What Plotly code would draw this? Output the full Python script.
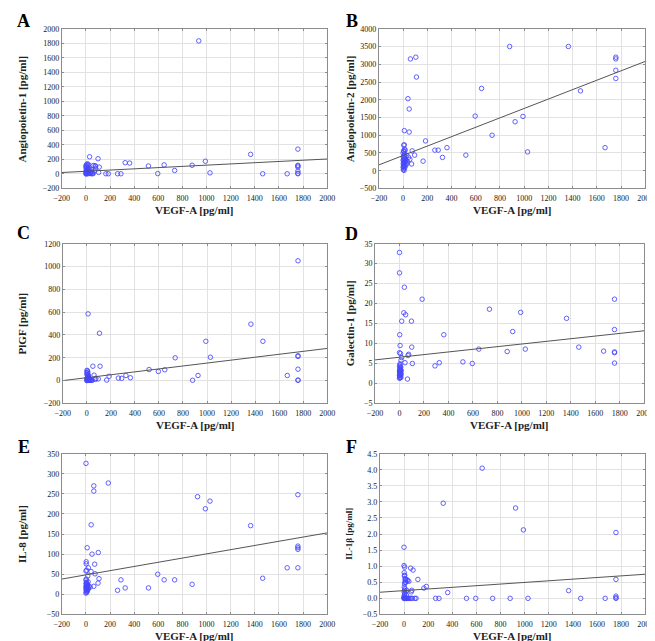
import plotly.graph_objects as go

W, H = 655, 641

# ---------------- data ----------------
vegf_range = [-200, 2000]

a_x = [935, 1757, 1365, 990, 880, 648, 518, 362, 325, 735,
       595, 1028, 1465, 1668, 1757, 1757, 1757, 1757, 1757, 1757,
       290, 262, 185, 165, 105, 110, 100, 30, 75, 80,
       60, 80, 45,
       0, 2, 5, 3, 8, 10, 12, 0, 5, 15,
       10, 20, 25, 2, 4, 6, 1, 18, 22, 30,
       35, 40, 50, 55, 28, 15, 0, 7, 12, 20,
       45, 60, 70, 3]
a_y = [1833, 342, 270, 175, 120, 125, 110, 150, 155, 48,
       5, 15, 3, 3, 3, 40, 95, 110, 120, 10,
       3, 3, 3, 3, 22, 95, 210, 237, 115, 105,
       116, 80, 60,
       0, 10, 20, 30, 40, 55, 70, 85, 100, 120,
       140, 130, 90, 5, 15, 25, 45, 50, 35, 20,
       10, 5, 3, 15, 60, 75, 110, 65, 2, 8,
       30, 5, 40, 125]

b_x = [880, 1365, 1757, 1757, 1757, 1757, 1465, 648, 595, 990,
       925, 735, 1028, 1668, 518, 362, 325, 290, 262, 185,
       165, 60, 105, 110, 40, 50, 10, 50, 75, 95,
       70, 55, 30, 45,
       5, 10, 3, 8, 0, 12, 5, 15, 2, 7,
       10, 0, 4, 13, 6, 9, 1, 11, 3, 8,
       5, 0, 14, 6, 2, 8, 18, 20, 25, 30,
       22, 35, 12, 17]
b_y = [3500, 3500, 3200, 3150, 2830, 2600, 2250, 2320, 1540, 1530,
       1380, 1000, 530, 650, 440, 650, 375, 580, 580, 840,
       270, 3150, 3200, 2640, 2030, 1740, 1130, 1090, 560, 440,
       190, 320, 430, 380,
       720, 730, 560, 540, 500, 470, 420, 400, 380, 350,
       320, 300, 280, 260, 240, 220, 200, 180, 160, 140,
       120, 100, 90, 60, 30, 10, 250, 330, 290, 200,
       150, 260, 610, 580]

c_x = [1757, 1365, 1465, 990, 1028, 735,
       1757, 1757, 1757, 1757, 1757, 1668,
       518, 595, 648, 880, 925,
       325, 362, 290, 262, 185, 165,
       10, 105, 110, 50, 60, 5, 5, 95, 75, 70, 40,
       0, 2, 4, 6, 8, 10, 12, 1, 3, 5,
       7, 9, 11, 14, 2, 4, 0, 15, 18, 20,
       25, 30, 35, 45, 22, 28, 16, 1, 8, 12]
c_y = [1050, 495, 345, 345, 205, 200,
       218, 212, 100, 3, 5, 45,
       97, 80, 95, 3, 45,
       45, 25, 20, 22, 38, 5,
       585, 415, 126, 126, 48, 85, 60, 15, 20, 10, 5,
       0, 2, 5, 8, 10, 12, 15, 18, 20, 25,
       30, 35, 40, 45, 50, 55, 70, 3, 6, 9,
       4, 7, 2, 3, 14, 11, 22, 90, 75, 28]

d_x = [0, 0, 40, 185, 1757, 735, 990, 1365, 35, 50,
       18, 98, 2, 362, 925, 1757, 5, 100, 1465, 1668,
       1757, 1757, 1757, 1028, 880, 648, 595, 518, 325, 290,
       105, 45, 65, 70, 75, 12, 18, 0, 8,
       0, 2, 4, 1, 3, 5, 0, 2, 4, 6,
       1, 3, 8, 10, 7, 9, 12, 15, 5, 0,
       2, 11, 6, 14]
d_y = [32.8, 27.7, 24.1, 21.1, 21.1, 18.6, 17.8, 16.3, 17.7, 17.2,
       15.6, 15.6, 12.2, 12.2, 13.0, 13.5, 9.5, 9.1, 9.1, 8.1,
       7.9, 7.7, 5.1, 8.6, 8.0, 8.6, 5.0, 5.4, 5.2, 4.4,
       5.0, 5.2, 1.1, 7.0, 7.3, 5.8, 6.5, 7.7, 7.5,
       1.3, 1.6, 1.9, 2.2, 2.5, 2.8, 3.1, 3.4, 3.7, 4.0,
       4.3, 4.6, 2.0, 2.6, 3.0, 3.5, 1.5, 3.2, 4.9, 2.0,
       2.9, 4.1, 1.4, 2.3]

e_x = [0, 65, 65, 185, 925, 1028, 990, 1757, 1365, 1757,
       1757, 1757, 1668, 1757, 1465, 880, 735, 648, 595, 518,
       325, 290, 262, 43, 10, 102, 50, 72, 75, 42,
       20, 2, 2, 0, 5, 108, 100, 35, 65, 15,
       0, 2, 4, 1, 3, 5, 0, 2, 4, 6,
       1, 3, 8, 10, 7, 9, 12, 14, 5, 0,
       2, 11, 16, 20, 25, 18, 6, 13]
e_y = [326, 270, 257, 277, 243, 232, 213, 248, 171, 120,
       116, 112, 66, 66, 40, 25, 36, 36, 50, 16,
       16, 36, 10, 173, 116, 104, 100, 75, 51, 57,
       66, 81, 76, 58, 60, 39, 28, 18, 20, 46,
       3, 6, 9, 12, 14, 16, 18, 20, 22, 24,
       26, 28, 10, 13, 15, 17, 19, 21, 30, 35,
       38, 8, 12, 15, 20, 31, 5, 25]

f_x = [648, 325, 925, 990, 1757, 1757, 1365, 1757, 1757, 1757,
       362, 185, 165, 115, 55, 75, 0, 0, 5, 2,
       262, 290, 518, 595, 735, 880, 1028, 1465, 1668, 100,
       90, 70, 60, 50, 40, 30, 60, 65, 40, 30,
       25,
       0, 2, 5, 8, 10, 12, 15, 18, 20, 25,
       0, 3, 6, 1, 4, 7, 2, 5, 8, 10,
       12, 3, 6, 9, 14, 16, 20, 22, 1]
f_y = [4.05, 2.96, 2.81, 2.13, 2.05, 0.59, 0.24, 0.07, 0.02, 0.0,
       0.18, 0.37, 0.32, 0.59, 0.94, 0.88, 1.59, 1.02, 0.97, 0.8,
       0, 0, 0, 0, 0, 0, 0, 0, 0, 0,
       0, 0, 0, 0, 0, 0, 0.2, 0.25, 0.53, 0.55,
       0.58,
       0, 0, 0, 0, 0, 0, 0, 0, 0, 0,
       0.05, 0.1, 0.15, 0.2, 0.25, 0.3, 0.35, 0.45, 0.5, 0.55,
       0.6, 0.7, 0.72, 0.62, 0.5, 0.2, 0.1, 0.25, 0.02]

# regression line values at x = -200 and x = 2000
fit_left = [20, 165, 0, 5.9, 38, 0.19]
fit_right = [206, 3080, 282, 13.2, 153, 0.75]

letters = ["A", "B", "C", "D", "E", "F"]
y_titles = ["Angiopoietin-1 [pg/ml]", "Angiopoietin-2 [pg/ml]", "PlGF [pg/ml]",
            "Galectin-1 [pg/ml]", "IL-8 [pg/ml]", "IL-1β [pg/ml]"]
y_ranges = [[-200, 2000], [-500, 4000], [-200, 1200], [-5, 35], [-50, 350], [-0.5, 4.5]]
y_dticks = [200, 500, 200, 5, 50, 0.5]
y_formats = ["d", "d", "d", "d", "d", ".1f"]
x_title = "VEGF-A [pg/ml]"

xs = [a_x, b_x, c_x, d_x, e_x, f_x]
ys = [a_y, b_y, c_y, d_y, e_y, f_y]

# ---------------- layout geometry (pixels) ----------------
# plot boxes: (left, right, top, bottom)
boxes = [(47, 319, 17, 179), (372, 645, 17, 179),
         (48, 319, 235, 397), (368, 644, 235, 397),
         (47, 319, 448, 611), (373, 645, 448, 611)]
ytitle_px = [6, 342, 6, 342, 6, 341]
ytitle_size = [11, 11, 11, 11, 11, 9]
letter_pos = [(8, 9), (344, 9), (8, 224), (344, 225), (8, 441), (344, 441)]

def px_x(p):
    return p / W

def px_y(p):
    return 1 - p / H

SERIF = "Liberation Serif"
fig = go.Figure()
annotations = []
layout = dict(width=W, height=H, margin=dict(l=0, r=0, t=0, b=0),
              paper_bgcolor="white", plot_bgcolor="white", showlegend=False)

for i in range(6):
    assert len(xs[i]) == len(ys[i]), (i, len(xs[i]), len(ys[i]))
    n = "" if i == 0 else str(i + 1)
    l, r, t, b = boxes[i]
    fig.add_trace(go.Scatter(
        x=xs[i], y=ys[i], mode="markers", xaxis="x" + n, yaxis="y" + n,
        marker=dict(symbol="circle-open", size=4.5, color="rgba(70,70,255,0.85)",
                    line=dict(width=1)),
        hoverinfo="x+y"))
    fig.add_trace(go.Scatter(
        x=vegf_range, y=[fit_left[i], fit_right[i]], mode="lines",
        xaxis="x" + n, yaxis="y" + n,
        line=dict(color="#555555", width=1), hoverinfo="skip"))
    common = dict(showgrid=True, gridcolor="#e2e2e2", gridwidth=1, zeroline=False,
                  showline=True, linecolor="#8c8c8c", linewidth=1, mirror="ticks",
                  ticks="inside", ticklen=2, tickcolor="#8c8c8c",
                  tickfont=dict(family=SERIF, size=8, color="#222"))
    layout["xaxis" + n] = dict(domain=[px_x(l), px_x(r)], range=vegf_range,
                               dtick=200, tick0=0, anchor="y" + n,
                               ticklabelstandoff=2, **common)
    layout["yaxis" + n] = dict(domain=[px_y(b), px_y(t)], range=y_ranges[i],
                               dtick=y_dticks[i], tick0=0, tickformat=y_formats[i],
                               anchor="x" + n, **common)
    # x-axis title
    annotations.append(dict(text=x_title, xref="paper", yref="paper",
                            x=px_x((l + r) / 2), y=px_y(b + 22), showarrow=False,
                            xanchor="center", yanchor="middle",
                            font=dict(family=SERIF, size=11, color="#222", weight="bold")))
    # y-axis title
    annotations.append(dict(text=y_titles[i], xref="paper", yref="paper",
                            x=px_x(ytitle_px[i]), y=px_y((t + b) / 2), textangle=-90,
                            showarrow=False, xanchor="center", yanchor="middle",
                            font=dict(family=SERIF, size=ytitle_size[i], color="#222",
                                      weight="bold")))
    # panel letter
    lx, ly = letter_pos[i]
    annotations.append(dict(text=letters[i], xref="paper", yref="paper",
                            x=px_x(lx), y=px_y(ly), showarrow=False,
                            xanchor="center", yanchor="middle",
                            font=dict(family=SERIF, size=18, color="black", weight="bold")))

layout["annotations"] = annotations
fig.update_layout(**layout)
fig.write_html("out.html")
